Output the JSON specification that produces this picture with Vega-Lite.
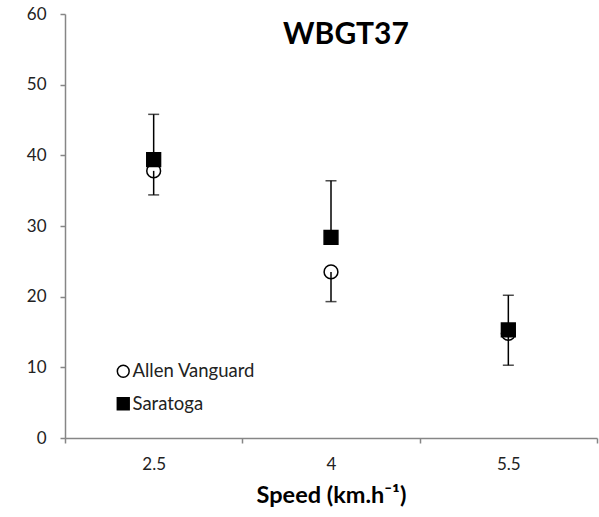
{
  "$schema": "https://vega.github.io/schema/vega-lite/v6.json",
  "width": 532,
  "height": 424,
  "autosize": {"type": "none"},
  "padding": {"left": 65, "top": 14, "right": 2, "bottom": 79},
  "background": "white",
  "config": {"view": {"stroke": null}, "font": "Lato"},
  "title": {"text": "WBGT37", "font": "Lato", "fontSize": 30, "fontWeight": "bold", "color": "black", "anchor": "middle", "frame": "group", "dx": 15, "offset": -69, "baseline": "alphabetic"},
  "data": {
    "values": [
      {"speed": "2.5", "series": "Allen Vanguard", "mean": 37.8, "end": 34.4},
      {"speed": "4", "series": "Allen Vanguard", "mean": 23.5, "end": 19.3},
      {"speed": "5.5", "series": "Allen Vanguard", "mean": 14.8, "end": 10.3},
      {"speed": "2.5", "series": "Saratoga", "mean": 39.4, "end": 45.8},
      {"speed": "4", "series": "Saratoga", "mean": 28.4, "end": 36.4},
      {"speed": "5.5", "series": "Saratoga", "mean": 15.3, "end": 20.2}
    ]
  },
  "encoding": {
    "x": {
      "field": "speed", "type": "ordinal", "sort": ["2.5", "4", "5.5"],
      "scale": {"paddingInner": 0, "paddingOuter": 0},
      "axis": {
        "tickBand": "extent", "labelAngle": 0, "title": "Speed (km.h⁻¹)",
        "titleFont": "Lato", "titleFontSize": 23.5, "titleFontWeight": "bold", "titleColor": "black", "titlePadding": 11,
        "labelFont": "Lato", "labelFontSize": 17, "labelColor": "#222", "labelPadding": 13,
        "domainColor": "#868686", "tickColor": "#868686", "domainWidth": 1.5, "tickWidth": 1.5, "tickSize": 5, "grid": false
      }
    }
  },
  "layer": [
    {
      "mark": {"type": "point", "filled": true, "strokeWidth": 1.5, "opacity": 1},
      "encoding": {
        "y": {"field": "mean", "type": "quantitative", "scale": {"domain": [0, 60], "nice": false},
          "axis": {"values": [0, 10, 20, 30, 40, 50, 60], "title": null, "grid": false,
            "labelFont": "Lato", "labelFontSize": 17, "labelColor": "#222", "labelPadding": 14,
            "domainColor": "#868686", "tickColor": "#868686", "domainWidth": 1.5, "tickWidth": 1.5, "tickSize": 5}},
        "shape": {"field": "series", "type": "nominal", "scale": {"domain": ["Allen Vanguard", "Saratoga"], "range": ["circle", "square"]},
          "legend": {"title": null, "orient": "none", "legendX": 49, "legendY": 348, "labelFont": "Lato", "labelFontSize": 18.5, "labelColor": "#222", "symbolSize": 140, "symbolStrokeWidth": 1.5, "rowPadding": 13.5, "labelOffset": 0, "padding": 0}},
        "fill": {"field": "series", "type": "nominal", "scale": {"domain": ["Allen Vanguard", "Saratoga"], "range": ["white", "black"]},
          "legend": {"title": null, "orient": "none", "legendX": 49, "legendY": 348, "labelFont": "Lato", "labelFontSize": 18.5, "labelColor": "#222", "symbolSize": 140, "symbolStrokeWidth": 1.5, "rowPadding": 13.5, "labelOffset": 0, "padding": 0}},
        "stroke": {"field": "series", "type": "nominal", "scale": {"domain": ["Allen Vanguard", "Saratoga"], "range": ["black", "black"]},
          "legend": {"title": null, "orient": "none", "legendX": 49, "legendY": 348, "labelFont": "Lato", "labelFontSize": 18.5, "labelColor": "#222", "symbolSize": 140, "symbolStrokeWidth": 1.5, "rowPadding": 13.5, "labelOffset": 0, "padding": 0}},
        "size": {"value": 190}
      }
    },
    {
      "mark": {"type": "rule", "color": "black", "strokeWidth": 1.5},
      "encoding": {
        "y": {"field": "mean", "type": "quantitative"},
        "y2": {"field": "end"}
      }
    },
    {
      "mark": {"type": "tick", "color": "black", "thickness": 1.5},
      "encoding": {
        "y": {"field": "end", "type": "quantitative"},
        "size": {"value": 11}
      }
    }
  ]
}
